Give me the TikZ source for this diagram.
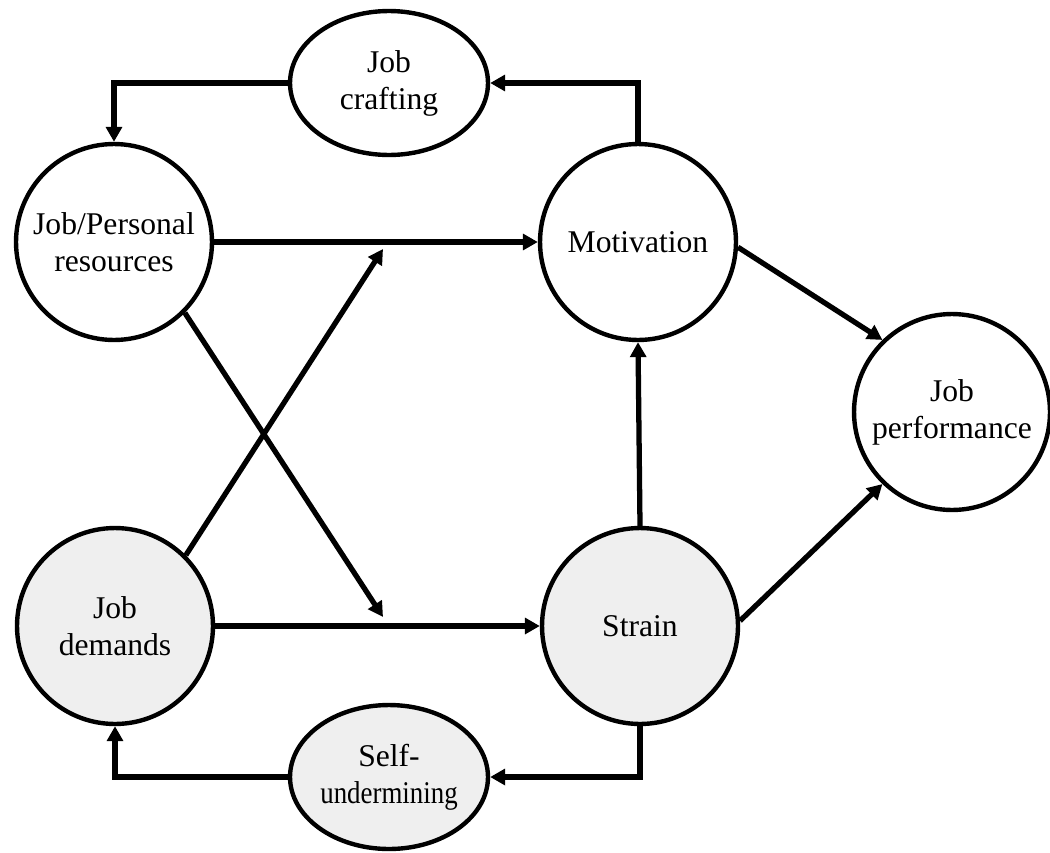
\documentclass[tikz,border=0pt]{standalone}
\usepackage{fontspec}
\setmainfont{Liberation Serif}
\usetikzlibrary{shapes.geometric,arrows.meta}
\definecolor{lightfill}{RGB}{239,239,239}
\tikzset{
  every node/.style={font=\fontsize{18}{21}\selectfont, align=center},
  circ/.style={circle, draw, line width=2.5pt, minimum size=3.92cm, inner sep=0pt},
  ell/.style={ellipse, draw, line width=2.5pt, minimum width=3.96cm, minimum height=2.88cm, inner sep=0pt},
  shaded/.style={fill=lightfill},
  arr/.style={line width=3pt, -{Triangle[length=8.5pt,width=9pt]}},
}
\begin{document}
\begin{tikzpicture}[x=0.02cm, y=-0.02cm]
\useasboundingbox (0,0) rectangle (1050,852);
% nodes
\node[circ] (jpr) at (114,242) {Job/Personal\\resources};
\node[circ] (mot) at (638,242) {Motivation};
\node[circ] (jp)  at (952,412) {Job\\performance};
\node[circ, shaded] (jd) at (115,626) {Job\\demands};
\node[circ, shaded] (st) at (640,626) {Strain};
\node[ell, label={center:Job\\crafting}] (jc) at (389,83) {};
\node[ell, shaded, label={center:Self-\\\scalebox{0.85}[1]{undermining}}] (su) at (389,777) {};
% free ends of the two crossing arrows
\coordinate (c1) at (383,617);
\coordinate (c2) at (383,249);
% connectors
\draw[arr] (mot.north) |- (jc.east);
\draw[arr] (jc.west) -| (jpr.north);
\draw[arr] (jpr.east) -- (mot.west);
\draw[arr] (jd.east) -- (st.west);
\draw[arr] (jpr.-45) -- (c1);
\draw[arr] (jd.45) -- (c2);
\draw[arr] (st.north) -- (mot.south);
\draw[arr] (mot.-3) -- (jp.134);
\draw[arr] (st.3) -- (jp.226);
\draw[arr] (st.south) |- (su.east);
\draw[arr] (su.west) -| (jd.south);
\end{tikzpicture}
\end{document}
